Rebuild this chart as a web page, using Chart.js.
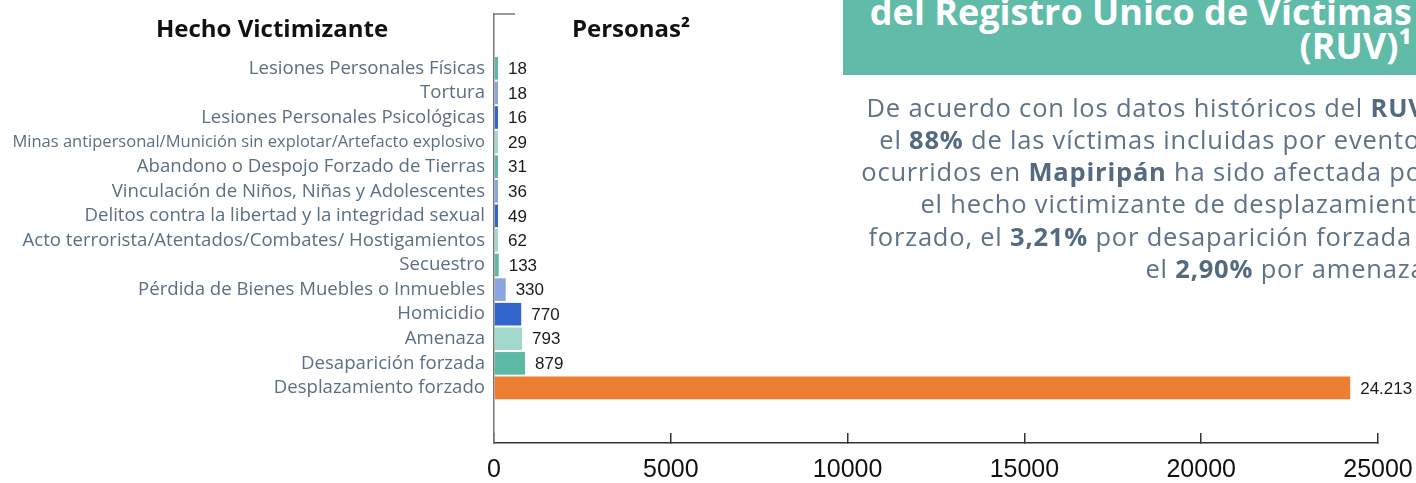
<!DOCTYPE html>
<html>
<head>
<meta charset="utf-8">
<script src="https://cdn.jsdelivr.net/npm/chart.js@4.4.1/dist/chart.umd.min.js"></script>
<style>
  html, body { margin: 0; padding: 0; width: 1416px; height: 483px; overflow: hidden; background: #fff; }
  #wrap { position: relative; width: 1416px; height: 483px; }
  #salesChart { position: absolute; left: 0; top: 0; }
  .head { position: absolute; top: 14px; font: bold 24px "Open Sans", sans-serif; line-height: 28px; color: #111; text-align: center; }
  #panel { position: absolute; left: 843px; top: 0; width: 573px; height: 75px; background: #61bba9; overflow: hidden; }
  #title { position: absolute; right: 4px; top: -5px; font: bold 36px "Open Sans", sans-serif; line-height: 34px; color: #fff; text-align: right; white-space: nowrap; }
  #note { position: absolute; right: -17px; top: 90.6px; font: 25.5px "Open Sans", sans-serif; letter-spacing: 0.8px; line-height: 32.3px; color: #5e7389; text-align: right; white-space: nowrap; }
  #note b { color: #536a80; }
</style>
</head>
<body>
<div id="wrap">
  <canvas id="salesChart" width="1416" height="483"></canvas>
  <div class="head" style="left:72px;width:400px;">Hecho Victimizante</div>
  <div class="head" style="left:531px;width:200px;">Personas²</div>
  <div id="panel"><div id="title">del Registro Único de Víctimas<br>(RUV)¹</div></div>
  <div id="note">De acuerdo con los datos históricos del <b>RUV</b>,<br>el <b>88%</b> de las víctimas incluidas por eventos<br>ocurridos en <b>Mapiripán</b> ha sido afectada por<br>el hecho victimizante de desplazamiento<br>forzado, el <b>3,21%</b> por desaparición forzada y<br>el <b>2,90%</b> por amenaza.</div>
</div>
<script>
// Hechos victimizantes, top to bottom
const categories = [
  'Lesiones Personales Físicas',
  'Tortura',
  'Lesiones Personales Psicológicas',
  'Minas antipersonal/Munición sin explotar/Artefacto explosivo',
  'Abandono o Despojo Forzado de Tierras',
  'Vinculación de Niños, Niñas y Adolescentes',
  'Delitos contra la libertad y la integridad sexual',
  'Acto terrorista/Atentados/Combates/ Hostigamientos',
  'Secuestro',
  'Pérdida de Bienes Muebles o Inmuebles',
  'Homicidio',
  'Amenaza',
  'Desaparición forzada',
  'Desplazamiento forzado'
];
const personas = [18, 18, 16, 29, 31, 36, 49, 62, 133, 330, 770, 793, 879, 24213];
const xTicks = [0, 5000, 10000, 15000, 20000, 25000];

const teal = '#5cbaa4', lavender = '#8ba5e1', blue = '#3366cc', lightTeal = '#a2d8cb', orange = '#ed7d31';
const barColors = [teal, lavender, blue, lightTeal, teal, lavender, blue, lightTeal,
                   teal, lavender, blue, lightTeal, teal, orange];

// 24213 -> "24.213"
function fmt(v) {
  return String(v).replace(/\B(?=(\d{3})+(?!\d))/g, '.');
}

// Value next to each bar
const valueLabels = {
  id: 'valueLabels',
  afterDatasetsDraw(chart) {
    const ctx = chart.ctx;
    const meta = chart.getDatasetMeta(0);
    ctx.save();
    ctx.font = '17px "Liberation Sans", Arial, sans-serif';
    ctx.fillStyle = '#1a1a1a';
    ctx.textBaseline = 'middle';
    meta.data.forEach((bar, i) => {
      ctx.fillText(fmt(personas[i]), bar.x + 10, bar.y + 1);
    });
    ctx.restore();
  }
};

// small cap at the top of the y axis
const axisCap = {
  id: 'axisCap',
  afterDraw(chart) {
    const { ctx, chartArea } = chart;
    ctx.save();
    ctx.strokeStyle = '#777';
    ctx.lineWidth = 1.5;
    ctx.beginPath();
    ctx.moveTo(chartArea.left, chartArea.top);
    ctx.lineTo(chartArea.left + 21, chartArea.top);
    ctx.stroke();
    ctx.restore();
  }
};

const ctx = document.getElementById('salesChart').getContext('2d');
new Chart(ctx, {
  type: 'bar',
  data: {
    datasets: [{
      data: personas.map((v, i) => ({ x: v, y: i })),
      backgroundColor: barColors,
      borderWidth: 0,
      minBarLength: 4,
      categoryPercentage: 1,
      barPercentage: 0.92
    }]
  },
  plugins: [valueLabels, axisCap],
  options: {
    indexAxis: 'y',
    responsive: false,
    animation: false,
    layout: { padding: { top: 14, right: 38, left: 0, bottom: 0 } },
    plugins: { legend: { display: false }, tooltip: { enabled: false } },
    scales: {
      x: {
        type: 'linear',
        min: 0,
        max: 25000,
        afterFit: s => { s.height = 40; s.paddingLeft = 0; s.paddingRight = 0; },
        afterBuildTicks: s => { s.ticks = xTicks.map(v => ({ value: v })); },
        border: { color: '#333', width: 1.5 },
        grid: { drawOnChartArea: false, drawTicks: true, tickLength: -10, color: '#333', lineWidth: 1.5 },
        ticks: {
          padding: 22,
          color: '#111',
          font: { family: '"Liberation Sans", Arial, sans-serif', size: 25 },
          callback: v => String(v)
        }
      },
      y: {
        type: 'linear',
        reverse: true,
        offset: false,
        min: -2.21,
        max: 15.24,
        afterFit: s => { s.width = 494; s.paddingTop = 0; s.paddingBottom = 0; },
        afterBuildTicks: s => { s.ticks = categories.map((c, i) => ({ value: i })); },
        border: { color: '#777', width: 1.5 },
        grid: { display: false, drawTicks: false },
        ticks: {
          padding: 9,
          color: '#5b6f84',
          // the very long mine label is squeezed to fit, as in the source
          font: c => ({ family: '"Open Sans", sans-serif', size: (categories[c.index] || '').length > 55 ? 16.5 : 18.6 }),
          callback: v => categories[v]
        }
      }
    }
  }
});
</script>
</body>
</html>
